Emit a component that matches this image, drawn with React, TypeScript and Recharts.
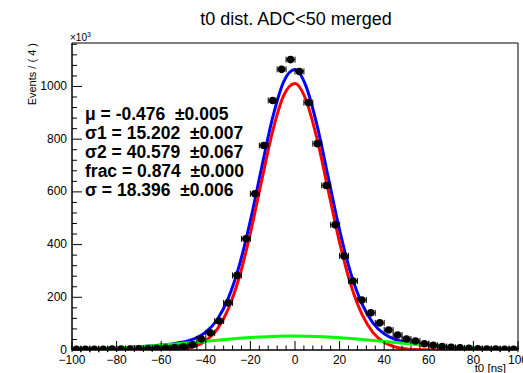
import { ComposedChart, ErrorBar, Line, ReferenceArea, Scatter, XAxis, YAxis } from "recharts";

// bin centres (width 4 ns) and event counts in units of 10^3
const BIN_CENTERS = [
  -98, -94, -90, -86, -82, -78, -74, -70, -66, -62, -58, -54, -50, -46, -42, -38, -34, -30, -26, -22, -18, -14,
  -10, -6, -2, 2, 6, 10, 14, 18, 22, 26, 30, 34, 38, 42, 46, 50, 54, 58, 62, 66, 70, 74, 78, 82, 86, 90, 94, 98,
];
const COUNTS = [
  3, 3, 3, 3, 4, 4, 4, 5, 5, 6, 7, 9, 12, 20, 42, 65, 110, 179, 283, 422, 593, 776,
  947, 1065, 1102, 1057, 939, 783, 624, 475, 357, 262, 190, 141, 103, 76, 57, 42, 34, 24, 18, 13, 10, 8, 6, 5, 4, 4, 3, 3,
];
const BIN_HALF_WIDTH = 2;

// fitted curves
const CURVE_X = [
  -100, -95, -90, -85, -80, -75, -70, -65, -60, -55, -50, -45, -40, -35, -30, -25, -20, -15, -10, -5, 0,
  5, 10, 15, 20, 25, 30, 35, 40, 45, 50, 55, 60, 65, 70, 75, 80, 85, 90, 95, 100,
];
const TOTAL_FIT = [
  2.6, 3.5, 4.7, 6.1, 7.8, 9.8, 12.2, 15.1, 18.6, 23.1, 30.2, 42.9, 67.6, 113.8, 194.7, 320.2, 491.2, 690.7, 882.6, 1019.7, 1064,
  999.5, 848.3, 651.3, 454.7, 291.5, 176, 102.2, 61.2, 39.8, 28.6, 22.1, 17.9, 14.5, 11.7, 9.4, 7.4, 5.8, 4.4, 3.3, 2.5,
];
const CORE_FIT = [
  0, 0, 0, 0, 0, 0, 0, 0.1, 0.5, 1.6, 5, 13.9, 34.6, 76.9, 154, 276, 444, 641, 831, 967, 1011,
  947, 797, 602, 408, 248, 136, 66, 29, 11.5, 4.1, 1.3, 0.4, 0.1, 0, 0, 0, 0, 0, 0, 0,
];
const WIDE_FIT = [
  2.6, 3.5, 4.7, 6.1, 7.8, 9.8, 12.2, 15.0, 18.1, 21.5, 25.2, 29.0, 33.0, 36.9, 40.7, 44.2, 47.2, 49.7, 51.6, 52.7, 53.0,
  52.5, 51.3, 49.3, 46.7, 43.5, 40.0, 36.2, 32.2, 28.3, 24.5, 20.8, 17.5, 14.4, 11.7, 9.4, 7.4, 5.8, 4.4, 3.3, 2.5,
];

const X_LABELS = [-100, -80, -60, -40, -20, 0, 20, 40, 60, 80, 100];
const Y_LABELS = [0, 200, 400, 600, 800, 1000];
const X_TICKS = Array.from({ length: 51 }, (_, i) => -100 + i * 4);
const Y_TICKS = Array.from({ length: 30 }, (_, i) => i * 40);

const FIT_NAMES = ["\u03bc = -0.476", "\u03c31 = 15.202", "\u03c32 = 40.579", "frac = 0.874", "\u03c3 = 18.396"];
const FIT_ERRORS = ["\u00b10.005", "\u00b10.007", "\u00b10.067", "\u00b10.000", "\u00b10.006"];

const W = 523;
const H = 373;
const LEFT = 72;
const TOP = 43;
const RIGHT = 518;
const BOTTOM = 350;
const FONT = "'Liberation Sans', Arial, Helvetica, sans-serif";

const points = BIN_CENTERS.map((x, i) => ({ x, y: COUNTS[i], ex: BIN_HALF_WIDTH }));
const total = CURVE_X.map((x, i) => ({ x, v: TOTAL_FIT[i] }));
const core = CURVE_X.map((x, i) => ({ x, v: CORE_FIT[i] }));
const wide = CURVE_X.map((x, i) => ({ x, v: WIDE_FIT[i] }));

const fmt = (v: number) => (v < 0 ? "\u2212" + Math.abs(v) : String(v));

function XTick(props: any) {
  const { x, payload } = props;
  const major = X_LABELS.includes(payload.value);
  return (
    <g>
      <line x1={x} x2={x} y1={BOTTOM} y2={BOTTOM - (major ? 9 : 4.5)} stroke="#000" />
      {major && (
        <text x={x} y={BOTTOM + 13.5} textAnchor="middle" fontSize={12} fontFamily={FONT} fill="#000">
          {fmt(payload.value)}
        </text>
      )}
    </g>
  );
}

function YTick(props: any) {
  const { y, payload } = props;
  const major = Y_LABELS.includes(payload.value);
  return (
    <g>
      <line x1={LEFT} x2={LEFT + (major ? 10 : 5)} y1={y} y2={y} stroke="#000" />
      {major && (
        <text x={LEFT - 5} y={y + 3.5} textAnchor="end" fontSize={12} fontFamily={FONT} fill="#000">
          {payload.value}
        </text>
      )}
    </g>
  );
}

function Dot(props: any) {
  return <circle cx={props.cx} cy={props.cy} r={3.8} fill="#000" />;
}

export default function App() {
  return (
    <div style={{ position: "absolute", left: 0, top: 0, width: W, height: H, background: "#fff" }}>
      <ComposedChart width={W} height={H} margin={{ top: TOP, right: W - RIGHT, bottom: 0, left: 0 }}>
        <XAxis
          dataKey="x"
          type="number"
          domain={[-100, 100]}
          ticks={X_TICKS}
          interval={0}
          tickLine={false}
          tick={<XTick />}
          height={H - BOTTOM}
          axisLine={{ stroke: "#000" }}
          allowDataOverflow
        />
        <YAxis
          type="number"
          domain={[0, 1165]}
          ticks={Y_TICKS}
          interval={0}
          tickLine={false}
          tick={<YTick />}
          width={LEFT}
          axisLine={{ stroke: "#000" }}
          allowDataOverflow
        />
        <ReferenceArea x1={-100} x2={100} y1={0} y2={1165} fill="none" stroke="#000" strokeWidth={1} />
        <Line data={total} dataKey="v" type="monotone" stroke="#0000ff" strokeWidth={3} dot={false} isAnimationActive={false} />
        <Line data={core} dataKey="v" type="monotone" stroke="#ff0000" strokeWidth={3} dot={false} isAnimationActive={false} />
        <Line data={wide} dataKey="v" type="monotone" stroke="#00ff00" strokeWidth={3} dot={false} isAnimationActive={false} />
        <Scatter data={points} dataKey="y" shape={<Dot />} isAnimationActive={false}>
          <ErrorBar dataKey="ex" direction="x" width={3} stroke="#000" strokeWidth={1} />
        </Scatter>
      </ComposedChart>
      <svg width={W} height={H} style={{ position: "absolute", left: 0, top: 0, pointerEvents: "none" }}>
        <text x={296} y={25} textAnchor="middle" fontSize={18} fontFamily={FONT} fill="#000">
          t0 dist. ADC&lt;50 merged
        </text>
        <text x={70} y={41} fontSize={10} fontFamily={FONT} fill="#000">
          {"\u00d710"}
          <tspan dy={-4} fontSize={7}>3</tspan>
        </text>
        <text
          transform={`translate(36, ${TOP}) rotate(-90)`}
          textAnchor="end"
          fontSize={11}
          fontFamily={FONT}
          fill="#000"
        >
          Events / ( 4 )
        </text>
        <text x={506} y={372} textAnchor="end" fontSize={11.5} fontFamily={FONT} fill="#000">
          t0 [ns]
        </text>
        {FIT_NAMES.map((name, i) => (
          <text
            key={name}
            x={85}
            y={120 + i * 19}
            fontSize={17.5}
            fontWeight="bold"
            fontFamily={FONT}
            fill="#000"
            style={{ whiteSpace: "pre" }}
          >
            {name + "  " + FIT_ERRORS[i]}
          </text>
        ))}
      </svg>
    </div>
  );
}
